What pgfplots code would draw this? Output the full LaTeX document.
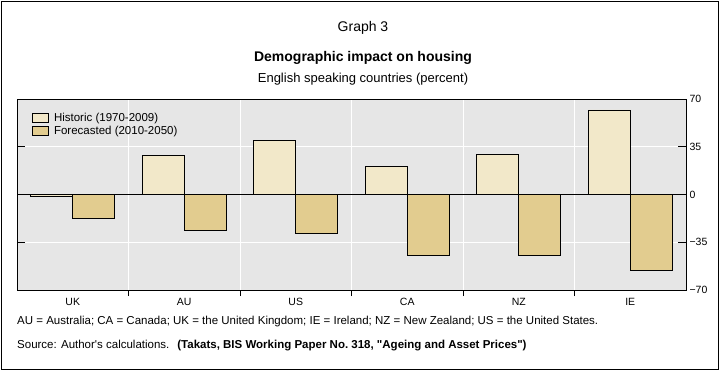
\documentclass[border=0pt]{standalone}
\usepackage{fontspec}
\setmainfont{Liberation Sans}
\usepackage{pgfplots}
\pgfplotsset{compat=1.18}
\definecolor{hist}{HTML}{F2E8C9}
\definecolor{fore}{HTML}{E2CC8F}
\definecolor{bg}{HTML}{E6E6E6}
\begin{document}
\begin{tikzpicture}[x=1pt,y=1pt]
\useasboundingbox (0,0) rectangle (722,-373);
\draw[black, line width=1pt] (1.5,-1.5) rectangle (718,-369);
\node[font=\fontsize{14}{16}\selectfont] at (363,-28) {Graph 3};
\node[font=\fontsize{14}{16}\selectfont\bfseries] at (363,-58) {Demographic impact on housing};
\node[font=\fontsize{13}{15}\selectfont] at (363,-79) {English speaking countries (percent)};
\begin{axis}[
  at={(17pt,-290pt)}, anchor=south west,
  scale only axis, width=669pt, height=191pt,
  xmin=-0.5, xmax=5.5, ymin=-70, ymax=70,
  axis background/.style={fill=bg},
  ybar=0pt, bar width=0.377,
  xtick={0,...,5}, xticklabels={UK,AU,US,CA,NZ,IE},
  major x tick style={draw=none},
  minor xtick={0.5,1.5,2.5,3.5,4.5},
  xminorgrids, minor x grid style={white, line width=1pt},
  xtick pos=bottom,
  xticklabel style={yshift=3.5pt},
  minor tick length=6pt, major tick length=8pt,
  ytick={-70,-35,0,35,70}, yticklabels={−70,−35,0,35,70},
  yticklabel pos=right, ytick pos=both,
  ymajorgrids, major y grid style={white, line width=1pt},
  tick style={black, line width=0.8pt},
  tick label style={font=\fontsize{10.5}{12}\selectfont},
  axis line style={black, line width=0.8pt},
  legend style={at={(0.018,0.95)}, anchor=north west, draw=none, fill=none,
    font=\fontsize{11.5}{13}\selectfont, row sep=-0.5pt,
    /tikz/every odd column/.append style={column sep=3pt}},
  legend cell align=left,
  legend image code/.code={\draw[#1, line width=0.8pt] (0pt,-4.5pt) rectangle (16pt,4.5pt);},
]
\addplot[draw=black, line width=0.8pt, fill=hist] coordinates {(0,-1.5) (1,28.4) (2,39.4) (3,20.4) (4,29.2) (5,62)};
\addplot[draw=black, line width=0.8pt, fill=fore] coordinates {(0,-17.5) (1,-26.3) (2,-28.4) (3,-44.3) (4,-44.3) (5,-55.4)};
\legend{Historic (1970-2009), Forecasted (2010-2050)}
\draw[black, line width=0.8pt] (axis cs:-0.5,0) -- (axis cs:5.5,0);
\end{axis}
\node[anchor=west, font=\fontsize{11.5}{13}\selectfont, inner sep=0pt] at (17,-322) {AU = Australia; CA = Canada; UK = the United Kingdom; IE = Ireland; NZ = New Zealand; US = the United States.};
\node[anchor=west, font=\fontsize{11.5}{13}\selectfont, inner sep=0pt] at (17,-346) {Source: Author\textquotesingle s calculations.\hspace{8pt}\textbf{(Takats, BIS Working Paper No.\ 318, \textquotedbl Ageing and Asset Prices\textquotedbl)}};
\end{tikzpicture}
\end{document}
